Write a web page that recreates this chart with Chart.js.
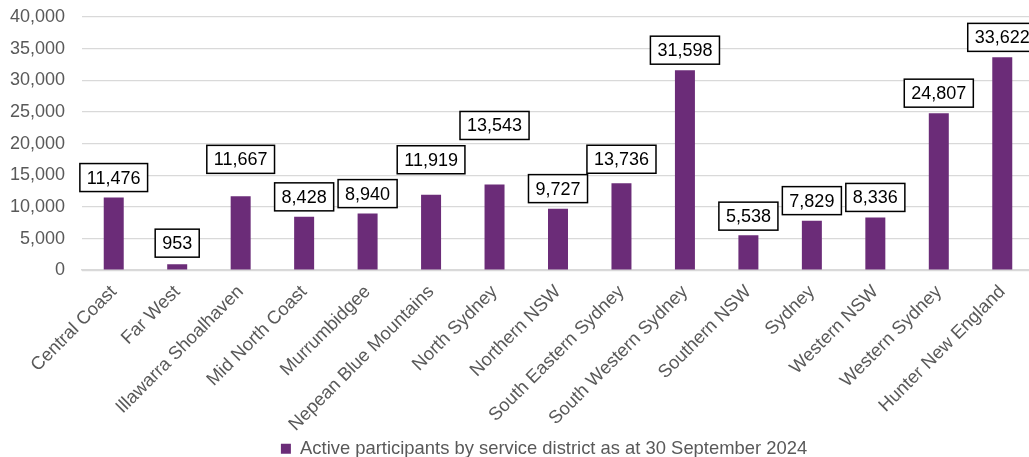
<!DOCTYPE html>
<html>
<head>
<meta charset="utf-8">
<script src="https://cdn.jsdelivr.net/npm/chart.js@4"></script>
<style>
  html, body { margin: 0; padding: 0; background: #fff; overflow: hidden; }
  #wrap { position: absolute; left: 0; top: 0; width: 1040px; height: 468px; }
</style>
</head>
<body>
<div id="wrap"><canvas id="districtChart"></canvas></div>
<script>
// Data
const districts = [
  "Central Coast", "Far West", "Illawarra Shoalhaven", "Mid North Coast",
  "Murrumbidgee", "Nepean Blue Mountains", "North Sydney", "Northern NSW",
  "South Eastern Sydney", "South Western Sydney", "Southern NSW", "Sydney",
  "Western NSW", "Western Sydney", "Hunter New England"
];
const participants = [
  11476, 953, 11667, 8428, 8940, 11919, 13543, 9727,
  13736, 31598, 5538, 7829, 8336, 24807, 33622
];
const yTicks = [0, 5000, 10000, 15000, 20000, 25000, 30000, 35000, 40000];
const seriesLabel = "Active participants by service district as at 30 September 2024";

// how far (px) each value box sits above its bar
const labelLift = [20, 21, 37, 20, 20, 35, 59, 20, 24, 20, 19, 20, 20, 20, 20];

const FONT = "'Liberation Sans', Arial, sans-serif";
const fmt = (v) => v.toLocaleString("en-AU");

// Boxed value labels
const boxedLabels = {
  id: "boxedLabels",
  afterDatasetsDraw(chart) {
    const ctx = chart.ctx;
    const meta = chart.getDatasetMeta(0);
    ctx.save();
    ctx.font = "18px " + FONT;
    ctx.textAlign = "center";
    ctx.textBaseline = "middle";
    meta.data.forEach((bar, i) => {
      const text = fmt(participants[i]);
      const w = ctx.measureText(text).width + 14;
      const h = 28;
      const cy = bar.y - labelLift[i];
      ctx.fillStyle = "#ffffff";
      ctx.fillRect(bar.x - w / 2, cy - h / 2, w, h);
      ctx.strokeStyle = "#000000";
      ctx.lineWidth = 1.5;
      ctx.strokeRect(bar.x - w / 2, cy - h / 2, w, h);
      ctx.fillStyle = "#000000";
      ctx.fillText(text, bar.x, cy + 1);
    });
    ctx.restore();
  },
};

// nudge the legend so it sits under the plot like the original
const legendShift = {
  id: "legendShift",
  afterLayout(chart) {
    if (!chart.legend) return;
    chart.legend.left += 27;
    chart.legend.right += 27;
  },
};

const ctx = document.getElementById("districtChart");
new Chart(ctx, {
  type: "bar",
  data: {
    labels: districts,
    datasets: [
      {
        label: seriesLabel,
        data: participants,
        backgroundColor: "#6b2c78",
        borderWidth: 0,
        barPercentage: 0.63,
        categoryPercentage: 0.5,
      },
    ],
  },
  options: {
    responsive: true,
    maintainAspectRatio: false,
    animation: false,
    layout: { padding: { top: 17, right: 6, left: 0, bottom: 0 } },
    plugins: {
      legend: {
        position: "bottom",
        labels: {
          boxWidth: 10,
          boxHeight: 10,
          padding: 6,
          color: "#595959",
          font: { family: FONT, size: 18.4 },
        },
      },
      tooltip: { enabled: false },
    },
    scales: {
      x: {
        grid: { display: false, drawTicks: false },
        border: { color: "#d9d9d9", width: 1.5 },
        ticks: {
          color: "#595959",
          font: { family: FONT, size: 18.4 },
          maxRotation: 45,
          minRotation: 45,
          autoSkip: false,
          padding: 11,
        },
        afterFit(scale) { scale.height = 163.4; },
      },
      y: {
        min: 0,
        max: 40000,
        afterBuildTicks(scale) { scale.ticks = yTicks.map((v) => ({ value: v })); },
        grid: {
          color: "#d9d9d9",
          lineWidth: 1.3,
          drawTicks: true,
          tickLength: 17,
          tickColor: "rgba(0,0,0,0)",
        },
        border: { display: false },
        ticks: {
          color: "#595959",
          padding: 0,
          font: { family: FONT, size: 18 },
          callback: (value) => fmt(value),
        },
        afterFit(scale) { scale.width = 82; },
      },
    },
  },
  plugins: [boxedLabels, legendShift],
});
</script>
</body>
</html>
